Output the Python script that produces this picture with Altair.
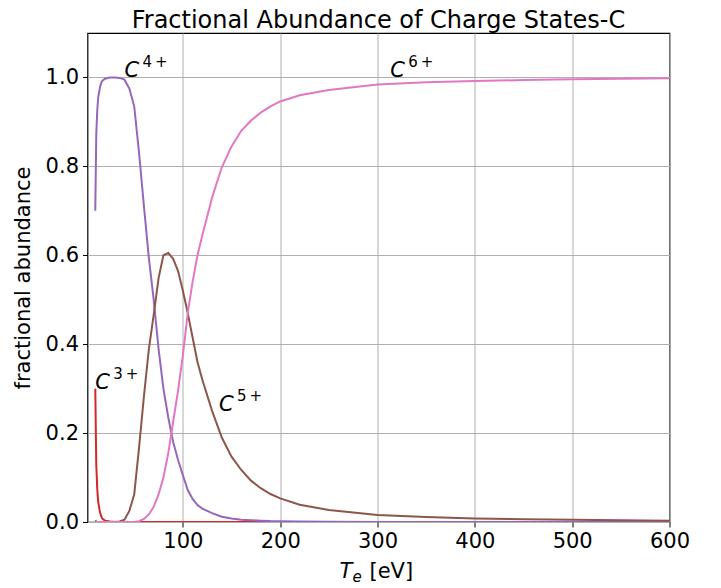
import altair as alt
import pandas as pd

# ---- data (T_e in eV, fractional abundance) ----
te_c2 = [10, 11, 12, 600]
fa_c2 = [0.004, 0.001, 0.0, 0.0]

te_c3 = [10, 11, 12, 13, 15, 17, 20, 25, 30, 40, 600]
fa_c3 = [0.30, 0.13, 0.075, 0.045, 0.02, 0.008, 0.003, 0.001, 0.0, 0.0, 0.0]

te_c4 = [10, 11, 12, 13, 15, 17, 20, 25, 30, 35, 40, 45, 50, 55, 60, 65, 70, 75,
         80, 85, 90, 95, 100, 105, 110, 115, 120, 130, 140, 150, 160, 170, 180,
         190, 200, 220, 250, 300, 600]
fa_c4 = [0.70, 0.87, 0.925, 0.955, 0.98, 0.992, 0.997, 1.0, 1.0, 0.999, 0.995,
         0.975, 0.935, 0.83, 0.71, 0.595, 0.50, 0.39, 0.30, 0.235, 0.18, 0.14,
         0.105, 0.072, 0.052, 0.038, 0.03, 0.02, 0.012, 0.008, 0.005, 0.004,
         0.003, 0.002, 0.0015, 0.001, 0.0005, 0.0, 0.0]

te_c5 = [10, 25, 30, 35, 40, 45, 50, 55, 60, 65, 70, 75, 80, 85, 90, 95, 100,
         105, 110, 115, 120, 130, 140, 150, 160, 170, 180, 190, 200, 220, 250,
         300, 350, 400, 450, 500, 550, 600]
fa_c5 = [0.0, 0.0, 0.0, 0.001, 0.005, 0.025, 0.062, 0.168, 0.283, 0.388, 0.466,
         0.548, 0.60, 0.605, 0.592, 0.565, 0.52, 0.47, 0.415, 0.36, 0.32, 0.25,
         0.19, 0.147, 0.117, 0.093, 0.076, 0.063, 0.053, 0.039, 0.027, 0.016,
         0.011, 0.008, 0.006, 0.005, 0.004, 0.003]

te_c6 = [10, 50, 55, 60, 65, 70, 75, 80, 85, 90, 95, 100, 105, 110, 115, 120,
         130, 140, 150, 160, 170, 180, 190, 200, 220, 250, 300, 350, 400, 450,
         500, 550, 600]
fa_c6 = [0.0, 0.0, 0.002, 0.007, 0.017, 0.034, 0.062, 0.10, 0.155, 0.225, 0.295,
         0.375, 0.47, 0.54, 0.60, 0.645, 0.73, 0.798, 0.845, 0.88, 0.903, 0.921,
         0.935, 0.946, 0.96, 0.972, 0.984, 0.989, 0.992, 0.994, 0.996, 0.997,
         0.998]

series_names = ["C2+", "C3+", "C4+", "C5+", "C6+"]
series_te = [te_c2, te_c3, te_c4, te_c5, te_c6]
series_fa = [fa_c2, fa_c3, fa_c4, fa_c5, fa_c6]
series_colors = ["#2ca02c", "#d62728", "#9467bd", "#8c564b", "#e377c2"]

# annotation anchors (data coordinates) and texts
label_te = [10, 40, 137, 313]
label_fa = [0.30, 1.0, 0.25, 1.0]
label_sup = ["3\u2009+", "4\u2009+", "5\u2009+", "6\u2009+"]

x_ticks = [100, 200, 300, 400, 500, 600]
y_ticks = [0.0, 0.2, 0.4, 0.6, 0.8, 1.0]

W, H = 582, 489
FONT = "DejaVu Sans"

xscale = alt.Scale(domain=[2, 600], nice=False, zero=False)
yscale = alt.Scale(domain=[0, 1.1], nice=False)

xaxis = alt.Axis(values=x_ticks, format="d", title=None, grid=True,
                 gridColor="#b0b0b0", gridWidth=1, gridOpacity=1, domain=False,
                 tickColor="black", tickSize=5, tickWidth=1,
                 labelFontSize=21, labelColor="black", labelFont=FONT,
                 labelPadding=3, labelFlush=False)
yaxis = alt.Axis(values=y_ticks, format=".1f", title="fractional abundance",
                 grid=True, gridColor="#b0b0b0", gridWidth=1, gridOpacity=1,
                 domain=False,
                 tickColor="black", tickSize=5, tickWidth=1,
                 labelFontSize=21, labelColor="black", labelFont=FONT,
                 labelPadding=4, titleFontSize=21, titleFont=FONT,
                 titleFontWeight="normal", titleColor="black", titlePadding=12)

X = alt.X("te:Q", scale=xscale, axis=xaxis)
Y = alt.Y("fa:Q", scale=yscale, axis=yaxis)

layers = []
for name, te, fa, col in zip(series_names, series_te, series_fa, series_colors):
    df = pd.DataFrame({"te": te, "fa": fa, "s": name})
    layers.append(
        alt.Chart(df).mark_line(color=col, strokeWidth=2, clip=True)
        .encode(x=X, y=Y)
    )

lab_df = pd.DataFrame({"te": label_te, "fa": label_fa, "sup": label_sup})
lab_c = alt.Chart(lab_df).mark_text(
    text="C", font=FONT, fontSize=21, fontStyle="italic", align="left",
    baseline="alphabetic", color="black"
).encode(x=X, y=Y)
lab_s = alt.Chart(lab_df).mark_text(
    font=FONT, fontSize=15, align="left", baseline="alphabetic",
    color="black", dx=18, dy=-10
).encode(x=X, y=Y, text="sup:N")

# x-axis title  T_e [eV]
one = lab_df.head(1)
xt_T = alt.Chart(one).mark_text(
    text="T", font=FONT, fontSize=21, fontStyle="italic", align="left",
    baseline="alphabetic", color="black"
).encode(x=alt.value(252), y=alt.value(545))
xt_e = alt.Chart(one).mark_text(
    text="e", font=FONT, fontSize=15, fontStyle="italic", align="left",
    baseline="alphabetic", color="black"
).encode(x=alt.value(265), y=alt.value(549))
xt_u = alt.Chart(one).mark_text(
    text="[eV]", font=FONT, fontSize=21, align="left",
    baseline="alphabetic", color="black"
).encode(x=alt.value(282), y=alt.value(545))

chart = alt.layer(*layers, lab_c, lab_s, xt_T, xt_e, xt_u).properties(
    width=W, height=H,
    background="white",
    title=alt.TitleParams("Fractional Abundance of Charge States-C", font=FONT,
                          fontSize=24, fontWeight="normal", color="black",
                          anchor="middle", offset=0),
    autosize=alt.AutoSizeParams(type="none"),
    padding={"left": 79.5, "top": 25, "right": 43.5, "bottom": 66},
).configure_view(stroke="black", strokeWidth=1.2)

chart.save("out.html", embed_options={"renderer": "svg", "actions": False})
